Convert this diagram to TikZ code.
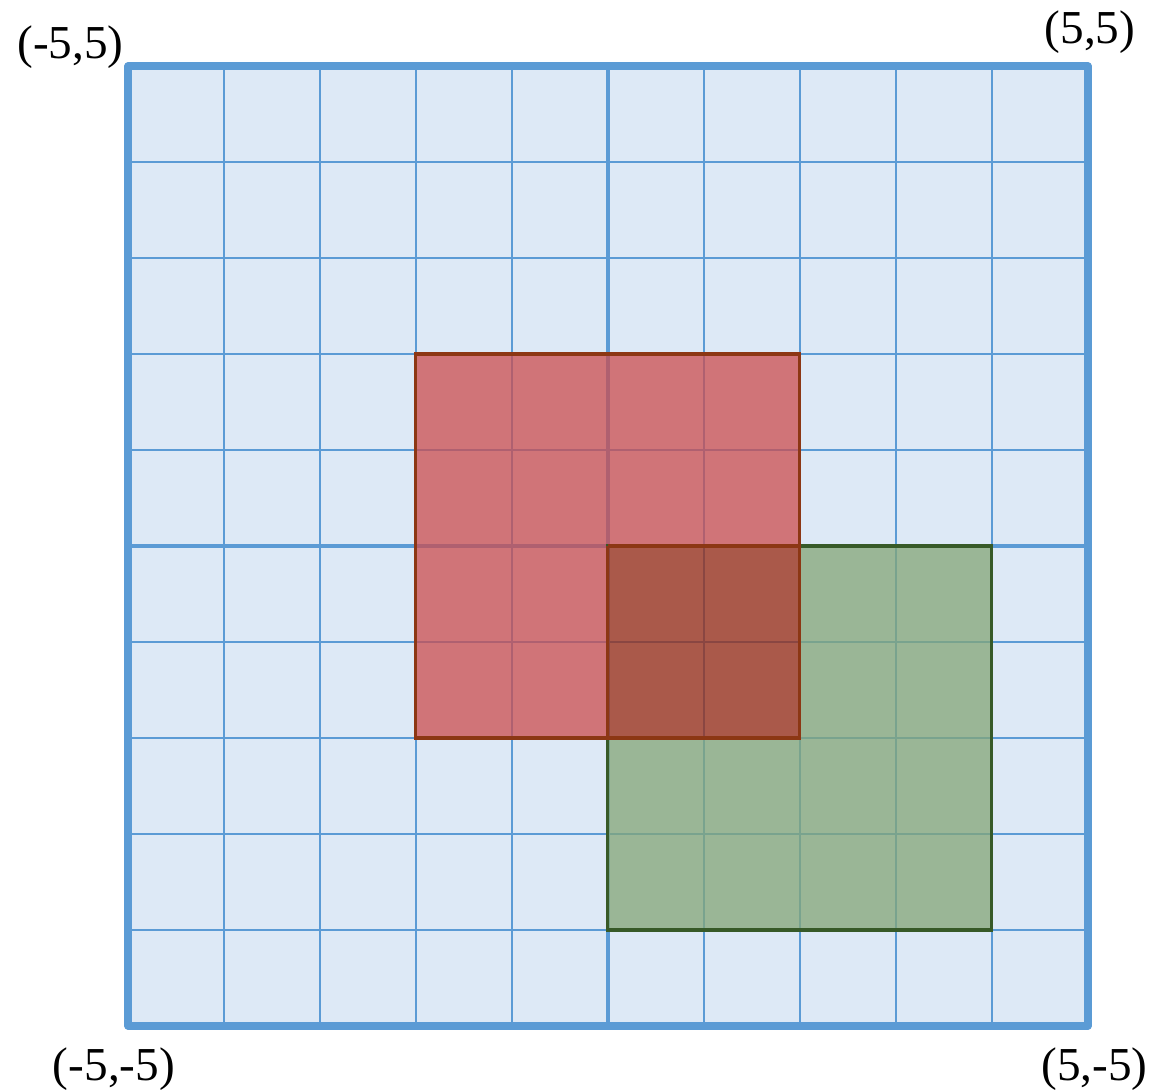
\documentclass[tikz,border=0pt]{standalone}
\usepackage{fontspec}
\setmainfont{Liberation Serif}
\definecolor{bgblue}{RGB}{221,233,246}
\definecolor{lineblue}{RGB}{91,155,213}
\definecolor{redfill}{RGB}{204,77,79}
\definecolor{greenfill}{RGB}{132,166,119}
\definecolor{overfill}{RGB}{154,42,17}
\definecolor{rededge}{RGB}{140,55,20}
\definecolor{greenedge}{RGB}{55,90,40}
\begin{document}
\begin{tikzpicture}[
  gridthin/.style={draw=lineblue, line width=0.45pt},
  axisline/.style={draw=lineblue, line width=1.3pt},
  frame/.style={draw=lineblue, line width=2.1pt, line join=round},
  lbl/.style={inner sep=0pt, font=\fontsize{14}{16}\selectfont},
  regfill/.style={fill opacity=0.75},
  edge/.style={line width=0.9pt},
]
\useasboundingbox (-6.333,-5.677) rectangle (5.865,5.6875);
% background
\fill[bgblue] (-5,-5) rectangle (5,5);
% grid
\draw[gridthin] (-5,-5) grid (5,5);
\draw[axisline] (0,-5) -- (0,5);
\draw[axisline] (-5,0) -- (5,0);
% fills
\fill[regfill, greenfill] (2,0) -- (4,0) -- (4,-4) -- (0,-4) -- (0,-2) -- (2,-2) -- cycle;
\fill[regfill, redfill] (-2,-2) -- (0,-2) -- (0,0) -- (2,0) -- (2,2) -- (-2,2) -- cycle;
\fill[regfill, overfill] (0,-2) rectangle (2,0);
% borders
\draw[greenedge, edge] (0,-4) rectangle (4,0);
\draw[rededge, edge] (0,0) -- (0,-2) (0,0) -- (2,0);
\draw[rededge, edge] (-2,-2) rectangle (2,2);
% outer frame
\draw[frame] (-5,-5) rectangle (5,5);
% labels
\node[lbl] (tl) at (-5.599,5.198) {(-5,5)};
\node[lbl] (tr) at (5.021,5.354) {(5,5)};
\node[lbl] (bl) at (-5.146,-5.448) {(-5,-5)};
\node[lbl] (br) at (5.068,-5.448) {(5,-5)};
\end{tikzpicture}
\end{document}
